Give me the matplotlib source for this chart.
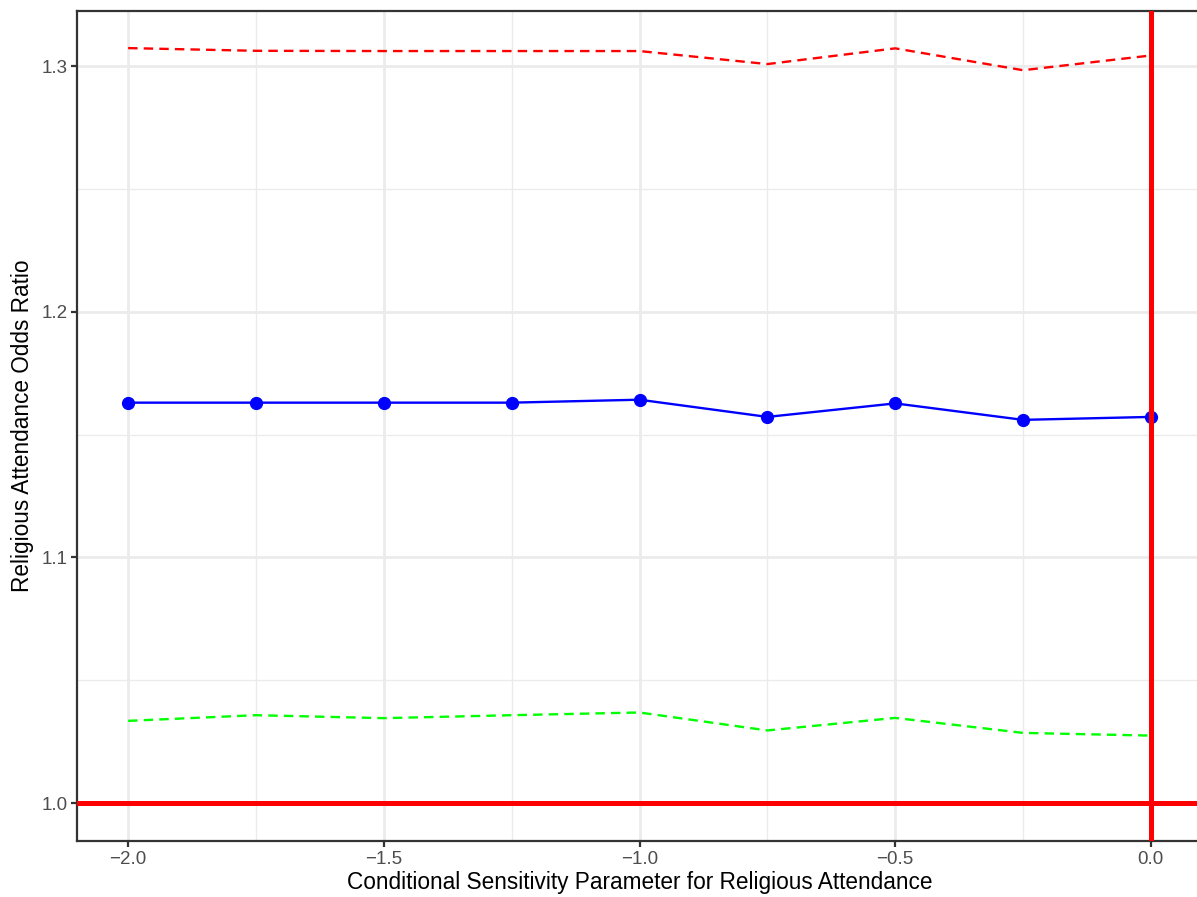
import numpy as np
import matplotlib.pyplot as plt

plt.rcParams['font.family'] = ['Liberation Sans', 'DejaVu Sans']

# sensitivity parameter values
sens = [-2.0, -1.75, -1.5, -1.25, -1.0, -0.75, -0.5, -0.25, 0.0]
# odds ratio estimate and bounds
odds = [1.1630, 1.1630, 1.1630, 1.1630, 1.1642, 1.1572, 1.1627, 1.1560, 1.1572]
upper = [1.3073, 1.3062, 1.3061, 1.3061, 1.3061, 1.3008, 1.3072, 1.2983, 1.3043]
lower = [1.0335, 1.0358, 1.0346, 1.0358, 1.0369, 1.0296, 1.0347, 1.0286, 1.0275]

fig = plt.figure(figsize=(11.97, 8.97), dpi=100)
ax = fig.add_axes([77/1197, 56/897, 1125/1197, 830/897])

ax.plot(sens, upper, color='#FF0000', lw=1.7, dashes=(4, 2.6), zorder=3)
ax.plot(sens, lower, color='#00FF00', lw=1.7, dashes=(4, 2.6), zorder=3)
ax.plot(sens, odds, color='#0000FF', lw=1.7, marker='o', ms=8.5, zorder=4)
ax.axhline(1.0, color='#FF0000', lw=3.6, zorder=5)
ax.axvline(0.0, color='#FF0000', lw=3.6, zorder=5)

ax.set_xlim(-2.1, 0.1)
ax.set_ylim(0.9846, 1.3224)
ax.set_xticks([-2.0, -1.5, -1.0, -0.5, 0.0])
ax.set_xticklabels(['\u22122.0', '\u22121.5', '\u22121.0', '\u22120.5', '0.0'])
ax.set_xticks([-1.75, -1.25, -0.75, -0.25], minor=True)
ax.set_yticks([1.0, 1.1, 1.2, 1.3])
ax.set_yticklabels(['1.0', '1.1', '1.2', '1.3'])
ax.set_yticks([1.05, 1.15, 1.25], minor=True)

ax.grid(which='major', color='#EBEBEB', lw=2.0, zorder=0)
ax.grid(which='minor', color='#EBEBEB', lw=1.0, zorder=0)
ax.set_axisbelow(True)

for s in ax.spines.values():
    s.set_color('#333333')
    s.set_linewidth(1.6)

ax.tick_params(which='major', length=4, width=1.6, color='#333333',
               labelcolor='#4D4D4D', labelsize=13.5, pad=3)
ax.tick_params(which='minor', length=0)

ax.set_xlabel('Conditional Sensitivity Parameter for Religious Attendance',
              fontsize=16.3, labelpad=2)
ax.set_ylabel('Religious Attendance Odds Ratio', fontsize=16.3, labelpad=5)

fig.savefig('out.png', dpi=100)
